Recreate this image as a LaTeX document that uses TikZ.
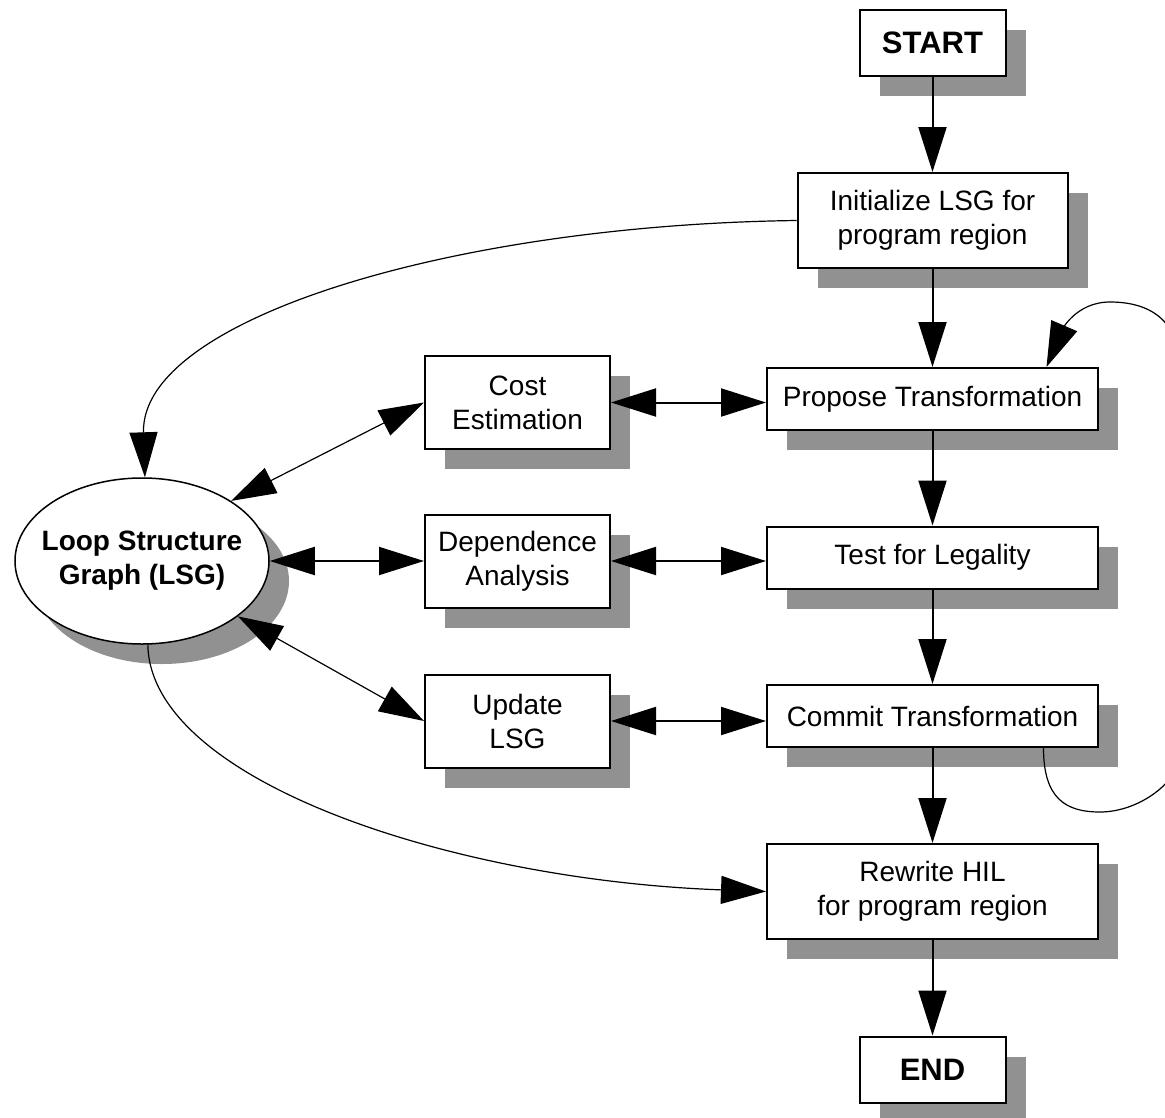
\documentclass[tikz,border=0pt]{standalone}
\usepackage{fontspec}
\setmainfont{Liberation Sans}
\usetikzlibrary{arrows.meta,shapes.geometric,shadows,calc}
\definecolor{shadowgray}{RGB}{145,145,145}
\begin{document}
\begin{tikzpicture}[x=1pt,y=-1pt,
  >={Triangle[length=45pt,width=28pt]},
  shad/.style={drop shadow={shadow xshift=20pt,shadow yshift=-20pt,fill=shadowgray,opacity=1,draw=none}},
  box/.style={draw,line width=2pt,fill=white,inner sep=0pt,align=center,
    font=\fontsize{28}{34}\selectfont,shad},
  term/.style={box,font=\fontsize{31}{36}\selectfont\bfseries,minimum width=146pt,minimum height=66pt},
  wide/.style={box,minimum width=331pt,minimum height=62pt},
  tall/.style={box,minimum height=95pt},
  side/.style={box,minimum width=185pt,minimum height=93pt},
  lsgnode/.style={ellipse,draw,line width=1.5pt,fill=white,inner xsep=-14pt,inner ysep=0pt,align=center,
    minimum width=254pt,minimum height=166pt,font=\fontsize{28}{34}\selectfont\bfseries,shad},
  arr/.style={line width=2pt,->},
  darr/.style={line width=2pt,<->},
  thinarr/.style={line width=1.2pt,<->},
  curve/.style={line width=1.2pt,->}
]
\useasboundingbox[fill=white] (0,0) rectangle (1165,1117);

\node[term] (start) at (932.5,43) {START};
\node[tall,minimum width=270pt] (init) at (932.5,220.5) {Initialize LSG for\\program region};
\node[wide] (prop) at (932.5,399) {Propose Transformation};
\node[wide] (test) at (932.5,557.5) {Test for Legality};
\node[wide] (commit) at (932.5,716) {Commit Transformation};
\node[tall,minimum width=331pt] (rewrite) at (932.5,891.5) {Rewrite HIL\\for program region};
\node[term] (end) at (932.5,1069.5) {END};

\node[side] (cost) at (517.5,402.5) {Cost\\Estimation};
\node[side] (dep) at (517.5,561) {Dependence\\Analysis};
\node[side] (upd) at (517.5,721) {Update\\LSG};

\node[lsgnode] (lsg) at (142,561) {Loop Structure\\Graph (LSG)};

% main flow
\draw[arr] (start.south) -- (init.north);
\draw[arr] (init.south) -- (prop.north);
\draw[arr] (prop.south) -- (test.north);
\draw[arr] (test.south) -- (commit.north);
\draw[arr] (commit.south) -- (rewrite.north);
\draw[arr] (rewrite.south) -- (end.north);

% side boxes to main flow
\draw[darr] (cost.east) -- (cost.east -| prop.west);
\draw[darr] (dep.east) -- (dep.east -| test.west);
\draw[darr] (upd.east) -- (upd.east -| commit.west);

% LSG to side boxes
\draw[thinarr] (lsg.34) -- (cost.west);
\draw[darr] (lsg.east) -- (dep.west);
\draw[thinarr] (lsg.-30) -- (upd.west);

% long curves
\draw[curve] (init.west) .. controls (450,225) and (140,320) .. (lsg.88);
\draw[curve] (lsg.-86) .. controls (150,780) and (450,880) .. (rewrite.west);

% loop from Commit back to Propose (partly outside the picture)
\begin{scope}
\clip (0,0) rectangle (1165,1117);
\draw[curve] ($(commit.south)+(111,0)$) .. controls +(0,50) and +(-35,0) .. (1100,812)
  .. controls +(40,0) and +(0,40) .. (1185,740) -- (1180,370)
  .. controls +(0,-45) and +(45,0) .. (1110,302)
  .. controls +(-35,0) and +(15,-35) .. ($(prop.north)+(114,0)$);
\end{scope}
\end{tikzpicture}
\end{document}
